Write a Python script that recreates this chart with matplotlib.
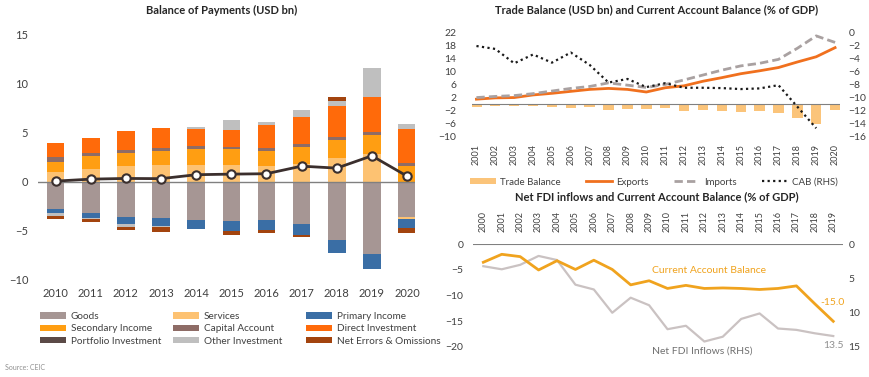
import numpy as np
import matplotlib
matplotlib.use('Agg')
import matplotlib.pyplot as plt
from matplotlib.patches import Patch
from matplotlib.lines import Line2D

plt.rcParams['font.family'] = ['Lato', 'DejaVu Sans']

# ---------------- data ----------------
# Balance of Payments (USD bn)
bop_years = ['2010', '2011', '2012', '2013', '2014', '2015', '2016', '2017', '2018', '2019', '2020']
goods = [-2.75, -3.15, -3.6, -3.7, -3.9, -4.0, -3.9, -4.3, -5.9, -7.35, -3.6]
services = [1.0, 1.27, 1.54, 1.68, 1.7, 1.7, 1.54, 1.8, 2.35, 2.8, -0.2]
primary_income = [-0.4, -0.5, -0.72, -0.77, -0.95, -0.97, -1.0, -1.15, -1.35, -1.5, -0.92]
secondary_income = [1.0, 1.33, 1.36, 1.42, 1.6, 1.6, 1.59, 1.73, 1.85, 1.89, 1.6]
capital_account = [0.5, 0.3, 0.35, 0.33, 0.27, 0.23, 0.27, 0.27, 0.35, 0.37, 0.28]
direct_investment = [1.38, 1.55, 1.91, 2.03, 1.76, 1.73, 2.4, 2.72, 3.11, 3.54, 3.48]
portfolio_investment = [0, 0, 0, 0, 0, 0, 0, 0, 0, 0, 0]
other_investment = [-0.3, -0.15, -0.3, -0.13, 0.2, 1.0, 0.24, 0.74, 0.58, 2.9, 0.48]
net_errors = [-0.4, -0.35, -0.25, -0.5, 0, -0.45, -0.3, -0.15, 0.36, 0, -0.48]
overall_balance = [0.05, 0.25, 0.32, 0.3, 0.7, 0.76, 0.8, 1.57, 1.37, 2.62, 0.56]

# Trade balance (USD bn) and CAB (% of GDP)
trade_years = [str(y) for y in range(2001, 2021)]
trade_balance = [-0.8, -0.6, -0.6, -0.5, -0.8, -1.1, -0.9, -1.7, -1.6, -1.6,
                 -1.3, -2.0, -1.7, -2.2, -2.3, -2.0, -2.6, -4.3, -6.1, -1.7]
exports = [1.5, 1.9, 2.0, 2.8, 3.3, 3.9, 4.5, 4.8, 4.5, 3.7,
           5.0, 5.6, 7.0, 8.1, 9.3, 10.2, 11.2, 12.9, 14.5, 17.3]
imports = [2.0, 2.35, 2.6, 3.2, 4.0, 4.8, 5.4, 6.5, 5.8, 5.1,
           6.0, 7.4, 8.9, 10.4, 11.7, 12.5, 13.7, 17.1, 20.9, 18.9]
cab_rhs = [-2.1, -2.55, -4.75, -3.4, -4.65, -3.1, -5.0, -7.7, -7.15, -8.4,
           -7.8, -8.5, -8.5, -8.55, -8.7, -8.6, -8.1, -11.4, -14.7]

# Net FDI inflows and CAB (% of GDP)
fdi_years = [str(y) for y in range(2000, 2020)]
cab = [-3.5, -1.95, -2.4, -5.0, -3.2, -4.9, -3.1, -4.9, -7.9, -7.1,
       -8.6, -8.0, -8.6, -8.5, -8.6, -8.8, -8.6, -8.1, -11.6, -15.0]
net_fdi = [3.2, 3.65, 3.0, 1.7, 2.3, 5.9, 6.6, 10.0, 7.8, 8.9,
           12.4, 11.9, 14.2, 13.5, 10.9, 10.1, 12.3, 12.5, 13.0, 13.4]

# ---------------- style ----------------
txt_col = '#404040'
components = [
    ('Goods', goods, '#A69694'),
    ('Services', services, '#FDC272'),
    ('Primary Income', primary_income, '#3A6EA5'),
    ('Secondary Income', secondary_income, '#FF9E12'),
    ('Capital Account', capital_account, '#8E6C66'),
    ('Direct Investment', direct_investment, '#FF6A0A'),
    ('Portfolio Investment', portfolio_investment, '#5B4A47'),
    ('Other Investment', other_investment, '#BFBFBF'),
    ('Net Errors & Omissions', net_errors, '#A3440E'),
]

fig = plt.figure(figsize=(8.7, 3.77), dpi=100)

# ---------------- left: balance of payments ----------------
ax1 = fig.add_axes([0.0437, 0.2573, 0.433, 0.6525])
x = np.arange(len(bop_years))
pos_base = np.zeros(len(x))
neg_base = np.zeros(len(x))
for name, vals, col in components:
    v = np.array(vals, dtype=float)
    p = np.where(v > 0, v, 0)
    n = np.where(v < 0, v, 0)
    ax1.bar(x, p, 0.5, bottom=pos_base, color=col, edgecolor='none')
    ax1.bar(x, n, 0.5, bottom=neg_base, color=col, edgecolor='none')
    pos_base += p
    neg_base += n

ax1.axhline(0, color='#808080', lw=1)
ax1.plot(x, overall_balance, color='#3B2F2D', lw=2, marker='o', ms=6,
         mfc='white', mec='#3B2F2D', mew=1.5, zorder=5)
ax1.set_xlim(-0.5, 10.22)
ax1.set_ylim(-10, 15)
ax1.set_yticks([-10, -5, 0, 5, 10, 15])
ax1.set_xticks(x)
ax1.set_xticklabels(bop_years)
ax1.tick_params(length=0, labelsize=8, colors=txt_col)
ax1.tick_params(axis='x', pad=6)
ax1.tick_params(axis='y', pad=7)
for s in ax1.spines.values():
    s.set_visible(False)
fig.text(0.255, 0.973, 'Balance of Payments (USD bn)', ha='center', va='center',
         fontsize=8, fontweight='bold', color='#262626')

# legend: three columns laid out like the original (row-wise)
col_x = [43, 176, 309]
for c in range(3):
    handles = []
    for r in range(3):
        name, vals, col = components[r * 3 + c]
        handles.append(Patch(facecolor=col, label=name))
    fig.legend(handles=handles, loc='upper left', fontsize=7.2,
               bbox_to_anchor=(col_x[c] / 870 - 0.004, 1 - 312 / 377),
               frameon=False, handlelength=2.6, handleheight=0.6,
               handletextpad=0.5, labelspacing=0.33, borderpad=0,
               borderaxespad=0, labelcolor=txt_col)

fig.text(5 / 870, 1 - 367 / 377, 'Source: CEIC', fontsize=5, color='#909090', va='center')

# ---------------- top right: trade balance ----------------
ax2 = fig.add_axes([0.5422, 0.6374, 0.4233, 0.2769])
xt = np.arange(len(trade_years))
ax2.bar(xt, trade_balance, 0.55, color='#FBC47A', edgecolor='none')
ax2.plot(xt, exports, color='#F0701E', lw=2)
ax2.plot(xt, imports, color='#A9A1A1', lw=2, ls=(0, (3, 1.5)))
ax2.axhline(0, color='#808080', lw=0.8)
ax2.set_xlim(-0.25, 19.26)
ax2.set_ylim(-10, 22)
ax2.set_yticks([-10, -6, -2, 2, 6, 10, 14, 18, 22])
ax2.set_xticks(xt)
ax2.set_xticklabels(trade_years, rotation=90)
ax2.tick_params(length=0, labelsize=7.5, colors=txt_col)
ax2.tick_params(axis='x', pad=5, labelsize=6.5)
ax2.tick_params(axis='y', pad=11)
ax2r = ax2.twinx()
ax2r.plot(np.arange(len(cab_rhs)), cab_rhs, color='#1A1A1A', lw=1.6, ls=(0, (1, 1.5)))
ax2r.set_ylim(-16, 0)
ax2r.set_yticks([-16, -14, -12, -10, -8, -6, -4, -2, 0])
ax2r.tick_params(length=0, labelsize=7.5, colors=txt_col, pad=6)
for a in (ax2, ax2r):
    for s in a.spines.values():
        s.set_visible(False)
fig.text(0.755, 0.973, 'Trade Balance (USD bn) and Current Account Balance (% of GDP)',
         ha='center', va='center', fontsize=8, fontweight='bold', color='#262626')

leg_handles = [Patch(facecolor='#FBC47A', label='Trade Balance'),
               Line2D([], [], color='#F0701E', lw=2, label='Exports'),
               Line2D([], [], color='#A9A1A1', lw=2, ls=(0, (3, 1.5)), label='Imports'),
               Line2D([], [], color='#1A1A1A', lw=1.6, ls=(0, (1, 1.5)), label='CAB (RHS)')]
fig.legend(handles=leg_handles, loc='center', ncol=4, fontsize=7,
           bbox_to_anchor=(0.752, 1 - 182 / 377), frameon=False,
           handlelength=2.6, handleheight=0.6, handletextpad=0.5, columnspacing=2.6,
           labelcolor=txt_col)

# ---------------- bottom right: FDI vs CAB ----------------
ax3 = fig.add_axes([0.5437, 0.0796, 0.4253, 0.2724])
xf = np.arange(len(fdi_years))
ax3.plot(xf, cab, color='#F0A31E', lw=2, zorder=4)
ax3.axhline(0, color='#808080', lw=0.8)
ax3.set_xlim(-0.56, 19.53)
ax3.set_ylim(-20, 0)
ax3.set_yticks([-20, -15, -10, -5, 0])
ax3.set_xticks(xf)
ax3.set_xticklabels(fdi_years, rotation=90)
ax3.xaxis.tick_top()
ax3.tick_params(length=0, labelsize=7.5, colors=txt_col)
ax3.tick_params(axis='x', pad=9, labelsize=6.5)
ax3.tick_params(axis='y', pad=7)
ax3r = ax3.twinx()
ax3r.plot(xf, net_fdi, color='#CAC2C2', lw=1.6, zorder=3)
ax3r.set_ylim(15, 0)
ax3r.set_yticks([0, 5, 10, 15])
ax3r.tick_params(length=0, labelsize=7.5, colors=txt_col, pad=4)
ax3.set_zorder(ax3r.get_zorder() + 1)
ax3.patch.set_visible(False)
for a in (ax3, ax3r):
    for s in a.spines.values():
        s.set_visible(False)
fig.text(0.755, 1 - 197 / 377, 'Net FDI inflows and Current Account Balance (% of GDP)',
         ha='center', va='center', fontsize=8, fontweight='bold', color='#262626')

ax3.text(9.16, -5.1, 'Current Account Balance', color='#F0A31E', fontsize=7.5, va='center')
ax3.text(18.3, -11.4, '-15.0', color='#F0A31E', fontsize=7.5, va='center')
ax3.text(9.16, -20.7, 'Net FDI Inflows (RHS)', color='#707070', fontsize=7.5,
         va='center', clip_on=False)
ax3.text(18.44, -19.7, '13.5', color='#909090', fontsize=7.5, va='center', clip_on=False)

plt.savefig('out.png', dpi=100)
